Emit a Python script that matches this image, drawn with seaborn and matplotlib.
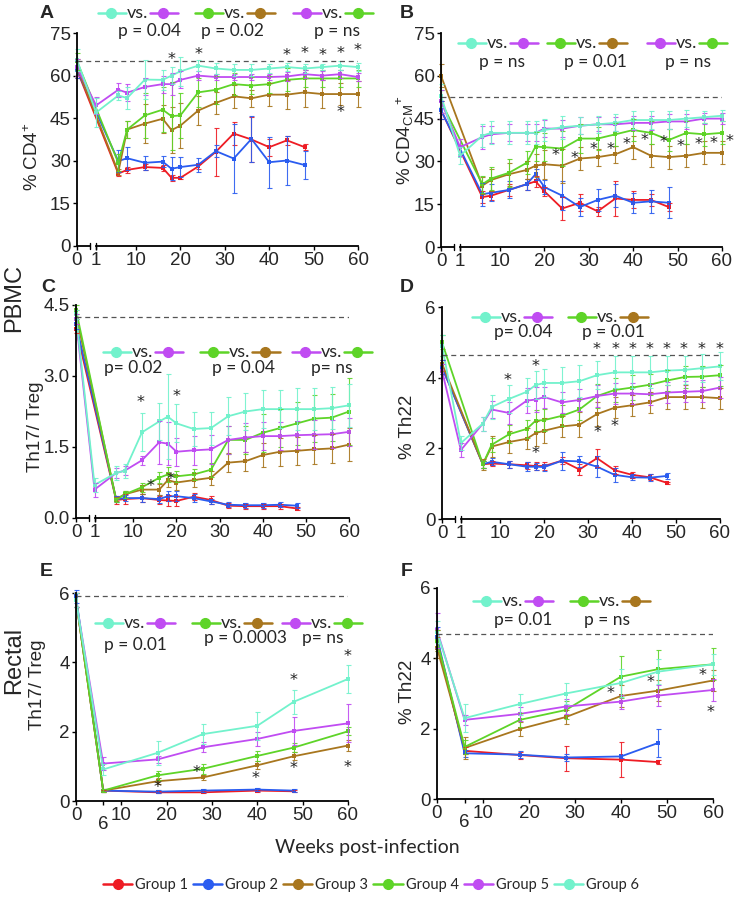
import numpy as np
import pandas as pd
import matplotlib
matplotlib.use("Agg")
import matplotlib.pyplot as plt
import seaborn as sns
from matplotlib.lines import Line2D
from matplotlib import font_manager as fm

# ---------------- data ----------------
GROUPS = ["Group 1", "Group 2", "Group 3", "Group 4", "Group 5", "Group 6"]
COLORS = ["#ee1c24", "#2a5cf0", "#a8761e", "#5ed428", "#c04cf2", "#72f2cc"]

wk_56 = [0, 1, 6, 8, 12, 16, 18, 20, 24, 28, 32, 36, 40, 44, 48, 52, 56, 60]
wk_34 = [0, 6, 8, 12, 16, 18, 20, 24, 28, 32, 36, 40, 44, 48, 52, 56, 60]
wk_12 = [0, 6, 8, 12, 16, 18, 20, 24, 28, 32, 36, 40, 44, 48]
wk_r = [0, 6, 18, 28, 40, 48, 60]
wk_r12 = [0, 6, 18, 28, 40, 48]

# Panel A  (% CD4+)
A_g1 = [62, 25.5, 26.8, 27.8, 27.5, 24, 24, 28, 33.2, 39.6, 37.5, 34.8, 37.2, 34.8]
A_g1_err = [3, 1, 1, 1, 1, 1, 0.5, 1, 8.5, 4, 8, 3, 1.5, 1]
A_g2 = [62, 29.9, 30.9, 29.3, 29.7, 27.2, 27.8, 28.6, 33.4, 30.8, 37.7, 29.5, 30.1, 28.5]
A_g2_err = [3, 4, 4, 2.5, 2, 4, 3.5, 2.5, 2, 12, 8, 9, 8.5, 5]
A_g3 = [63, 26, 41, 43.1, 44.8, 40.8, 42.4, 47.7, 50.4, 52.7, 52, 53.3, 53.3, 54.1, 53.5, 53.5, 53.5]
A_g3_err = [3, 1, 3, 7, 5, 8, 8, 5, 4, 4, 3, 4, 5, 5, 5, 4, 4.5]
A_g4 = [65, 29.3, 41, 46, 48, 45.7, 46, 54.1, 55, 57, 56.5, 57, 58.5, 59, 59, 59, 59]
A_g4_err = [3, 3, 3, 8, 8, 12, 8, 5, 5, 4, 3, 3, 4, 3, 3, 3, 3]
A_g5 = [63, 49.5, 55, 54, 56, 57, 57, 58.5, 60, 59.5, 59.5, 59.5, 59.5, 59.7, 60.5, 60, 60.5, 59.5]
A_g5_err = [3, 3, 2.5, 3, 3, 3, 4, 3, 1.5, 1, 1, 1, 1, 1.5, 1.5, 1.5, 1.5, 1.5]
A_g6 = [65.5, 47, 53, 52.1, 58.6, 58.5, 60, 61.5, 63.5, 62.5, 62, 62, 62.5, 63, 62.5, 63, 63.5, 63]
A_g6_err = [4, 5, 1.5, 4, 7, 3.5, 3, 5, 2, 2, 2, 2, 1.5, 1.5, 1.5, 1, 1.5, 1.5]
A_base = 65
A_star_x = [18, 24, 44, 48, 52, 56, 60, 56]
A_star_y = [65.5, 67.4, 67, 67.7, 67, 67.7, 68.9, 46.9]

# Panel B  (% CD4 CM+)
B_g1 = [48, 17.5, 18, 20, 22, 23, 19.5, 13.5, 15.5, 12.5, 17, 16.5, 16.5, 14]
B_g1_err = [3, 2, 1.5, 2, 2, 2, 1.5, 4, 3, 1.5, 6, 3, 2, 1.5]
B_g2 = [48, 18.5, 19, 20, 22, 25.5, 21, 18, 14, 16.5, 18, 15.5, 16, 15.5]
B_g2_err = [3, 4, 3, 3, 2, 2, 2.5, 5, 3, 4, 4, 3.5, 4, 5.5]
B_g3 = [60, 21.5, 23.5, 25.5, 27, 28.5, 29, 28.5, 31, 31.5, 32.5, 35, 32, 31.5, 32, 33, 33]
B_g3_err = [4, 3, 4, 4, 3, 4, 5, 6, 4, 3, 3, 4, 4, 4, 4, 4, 4]
B_g4 = [51, 22, 24, 26, 29.5, 35.2, 35, 34.5, 38, 38, 39.5, 41, 40, 37.5, 40, 39.5, 40]
B_g4_err = [4, 3, 4, 5, 4, 5, 5, 6, 5, 4, 4, 4, 4, 4, 4, 4, 4]
B_g5 = [51, 35, 38.5, 39.5, 40, 40, 40, 41.5, 41.5, 42.5, 43, 43, 43.5, 43.5, 44, 44, 45, 45]
B_g5_err = [4, 3, 4, 3, 3, 3, 3, 3, 3, 3, 2.5, 2.5, 2.5, 2.5, 2.5, 2.5, 2, 2]
B_g6 = [53, 32, 39, 40, 40, 40, 40, 41, 42, 42.5, 43, 43.5, 44.5, 44.5, 44.5, 45, 45.5, 46]
B_g6_err = [4, 3, 4, 4, 4, 4, 4, 4, 4, 3, 3, 3, 3, 3, 3, 3, 2, 2]
B_base = 52.5
B_star_x = [22.6, 26.8, 31, 34.8, 38.6, 42.5, 46.8, 50.6, 54.6, 58.2, 61.8]
B_star_y = [32.2, 31, 34, 34.3, 36, 37.3, 36.6, 35.2, 35.8, 36.1, 36.9]

# Panel C  (PBMC Th17/Treg)
C_g1 = [4.0, 0.38, 0.4, 0.42, 0.38, 0.37, 0.36, 0.45, 0.38, 0.26, 0.25, 0.25, 0.25, 0.2]
C_g1_err = [0.1, 0.08, 0.1, 0.08, 0.08, 0.12, 0.1, 0.08, 0.08, 0.05, 0.05, 0.05, 0.05, 0.04]
C_g2 = [4.1, 0.4, 0.42, 0.42, 0.4, 0.46, 0.46, 0.42, 0.35, 0.28, 0.27, 0.27, 0.28, 0.26]
C_g2_err = [0.1, 0.06, 0.06, 0.08, 0.08, 0.1, 0.1, 0.08, 0.06, 0.05, 0.05, 0.05, 0.05, 0.05]
C_g3 = [4.3, 0.4, 0.5, 0.6, 0.6, 0.8, 0.75, 0.8, 0.85, 1.17, 1.2, 1.33, 1.4, 1.42, 1.45, 1.47, 1.55]
C_g3_err = [0.1, 0.05, 0.08, 0.1, 0.12, 0.15, 0.15, 0.15, 0.15, 0.2, 0.2, 0.25, 0.3, 0.3, 0.3, 0.3, 0.35]
C_g4 = [4.4, 0.38, 0.5, 0.65, 0.85, 0.92, 0.88, 0.92, 1.02, 1.65, 1.65, 1.8, 1.9, 2.0, 2.1, 2.12, 2.25]
C_g4_err = [0.1, 0.05, 0.08, 0.1, 0.12, 0.15, 0.12, 0.12, 0.15, 0.3, 0.3, 0.4, 0.4, 0.45, 0.5, 0.5, 0.7]
C_g5 = [4.2, 0.6, 0.95, 1.0, 1.22, 1.6, 1.57, 1.4, 1.43, 1.45, 1.65, 1.7, 1.73, 1.73, 1.75, 1.76, 1.77, 1.82]
C_g5_err = [0.1, 0.15, 0.1, 0.1, 0.1, 0.45, 0.45, 0.3, 0.3, 0.3, 0.3, 0.3, 0.3, 0.3, 0.3, 0.3, 0.3, 0.3]
C_g6 = [4.3, 0.7, 0.95, 1.0, 1.81, 2.04, 2.14, 2.0, 1.88, 1.9, 2.15, 2.25, 2.3, 2.3, 2.3, 2.3, 2.32, 2.38]
C_g6_err = [0.1, 0.15, 0.15, 0.15, 0.4, 0.4, 0.9, 0.4, 0.35, 0.35, 0.4, 0.4, 0.4, 0.4, 0.45, 0.45, 0.45, 0.45]
C_base = 4.25
C_star_x = [11.6, 19.9, 14.0, 18.5]
C_star_y = [2.43, 2.57, 0.67, 0.81]

# Panel D  (PBMC % Th22)
D_g1 = [4.3, 1.55, 1.57, 1.55, 1.52, 1.5, 1.5, 1.65, 1.4, 1.72, 1.38, 1.25, 1.18, 1.02]
D_g1_err = [0.2, 0.1, 0.08, 0.1, 0.1, 0.1, 0.1, 0.1, 0.15, 0.25, 0.12, 0.08, 0.08, 0.03]
D_g2 = [4.3, 1.55, 1.62, 1.55, 1.48, 1.48, 1.47, 1.65, 1.63, 1.48, 1.25, 1.18, 1.17, 1.22]
D_g2_err = [0.2, 0.1, 0.1, 0.1, 0.12, 0.1, 0.1, 0.25, 0.15, 0.3, 0.2, 0.08, 0.1, 0.08]
D_g3 = [4.4, 1.55, 2.05, 2.18, 2.27, 2.43, 2.5, 2.62, 2.67, 2.97, 3.15, 3.22, 3.3, 3.45, 3.45, 3.45, 3.42]
D_g3_err = [0.2, 0.15, 0.3, 0.3, 0.3, 0.35, 0.35, 0.3, 0.35, 0.35, 0.3, 0.3, 0.3, 0.35, 0.35, 0.3, 0.3]
D_g4 = [5.0, 1.55, 2.1, 2.4, 2.55, 2.78, 2.8, 2.92, 3.1, 3.48, 3.65, 3.72, 3.8, 3.92, 4.02, 4.03, 4.07]
D_g4_err = [0.2, 0.1, 0.2, 0.25, 0.25, 0.3, 0.3, 0.3, 0.3, 0.35, 0.35, 0.35, 0.3, 0.3, 0.3, 0.3, 0.3]
D_g5 = [4.2, 1.95, 2.7, 3.1, 3.0, 3.35, 3.38, 3.45, 3.3, 3.37, 3.48, 3.55, 3.55, 3.53, 3.58, 3.6, 3.62, 3.72]
D_g5_err = [0.2, 0.2, 0.2, 0.25, 0.3, 0.35, 0.35, 0.3, 0.3, 0.3, 0.3, 0.3, 0.3, 0.3, 0.3, 0.3, 0.3, 0.3]
D_g6 = [4.9, 2.15, 2.7, 3.17, 3.4, 3.6, 3.79, 3.85, 3.85, 3.9, 4.07, 4.15, 4.15, 4.15, 4.2, 4.22, 4.27, 4.32]
D_g6_err = [0.3, 0.2, 0.2, 0.35, 0.4, 0.4, 0.4, 0.4, 0.45, 0.45, 0.4, 0.45, 0.45, 0.45, 0.4, 0.4, 0.4, 0.4]
D_base = 4.65
D_star_x = [31.9, 36.1, 40, 43.9, 47.9, 51.8, 55.8, 59.8, 11.7, 18, 32, 36, 18]
D_star_y = [4.8, 4.8, 4.8, 4.8, 4.8, 4.8, 4.8, 4.8, 3.93, 4.33, 2.44, 2.63, 1.86]

# Panel E  (Rectal Th17/Treg)
E_g1 = [5.8, 0.3, 0.25, 0.25, 0.3, 0.28]
E_g1_err = [0.2, 0.03, 0.03, 0.03, 0.03, 0.03]
E_g2 = [5.9, 0.3, 0.27, 0.3, 0.33, 0.3]
E_g2_err = [0.2, 0.05, 0.04, 0.04, 0.04, 0.04]
E_g3 = [5.8, 0.3, 0.57, 0.68, 1.03, 1.29, 1.6]
E_g3_err = [0.2, 0.05, 0.08, 0.08, 0.12, 0.12, 0.15]
E_g4 = [5.8, 0.3, 0.74, 0.93, 1.3, 1.54, 2.01]
E_g4_err = [0.2, 0.05, 0.12, 0.15, 0.15, 0.12, 0.12]
E_g5 = [5.8, 1.08, 1.2, 1.55, 1.79, 2.02, 2.24]
E_g5_err = [0.2, 0.2, 0.1, 0.15, 0.2, 0.4, 0.55]
E_g6 = [5.8, 0.91, 1.39, 1.93, 2.17, 2.86, 3.52]
E_g6_err = [0.2, 0.15, 0.35, 0.3, 0.4, 0.35, 0.4]
E_base = 5.9
E_star_x = [59.8, 48, 48, 59.8, 39.7, 26.6, 18]
E_star_y = [4.18, 3.47, 0.93, 0.96, 0.65, 0.81, 0.4]

# Panel F  (Rectal % Th22)
F_g1 = [4.5, 1.37, 1.25, 1.16, 1.12, 1.05]
F_g1_err = [0.3, 0.1, 0.1, 0.35, 0.5, 0.05]
F_g2 = [4.6, 1.3, 1.26, 1.18, 1.21, 1.59]
F_g2_err = [0.3, 0.1, 0.1, 0.1, 0.05, 0.4]
F_g3 = [4.3, 1.45, 1.99, 2.33, 2.93, 3.08, 3.37]
F_g3_err = [0.3, 0.3, 0.2, 0.2, 0.3, 0.3, 0.3]
F_g4 = [4.5, 1.48, 2.25, 2.53, 3.48, 3.69, 3.83]
F_g4_err = [0.3, 0.2, 0.2, 0.25, 0.6, 0.55, 0.45]
F_g5 = [4.8, 2.25, 2.42, 2.63, 2.77, 2.94, 3.1]
F_g5_err = [0.5, 0.15, 0.2, 0.2, 0.2, 0.3, 0.3]
F_g6 = [4.75, 2.3, 2.7, 3.0, 3.3, 3.62, 3.83]
F_g6_err = [0.3, 0.4, 0.3, 0.3, 0.4, 0.35, 0.3]
F_base = 4.68
F_star_x = [37.8, 46.4, 57.8, 59.4]
F_star_y = [3.0, 3.3, 3.5, 2.47]

# ---------------- style ----------------
sns.set_theme(style="ticks")
names = {f.name for f in fm.fontManager.ttflist}
TICKFONT = "Liberation Sans"
for cand in ["Liberation Sans Narrow", "DejaVu Sans Condensed", "Liberation Sans"]:
    if cand in names:
        TICKFONT = cand
        break
plt.rcParams["font.family"] = ["Lato", "DejaVu Sans"]
plt.rcParams["mathtext.fontset"] = "custom"
plt.rcParams["mathtext.rm"] = "Liberation Sans"
plt.rcParams["mathtext.it"] = "Liberation Sans"
plt.rcParams["axes.linewidth"] = 1.3

W, H = 734, 899
fig = plt.figure(figsize=(W / 100, H / 100), dpi=100)


def fx(px):
    return px / W


def fy(py):
    return 1 - py / H


def add_axes(x0, x1, ytop, ybot):
    return fig.add_axes([fx(x0), fy(ybot), (x1 - x0) / W, (ybot - ytop) / H])


BREAK0 = -3.3


def draw_panel(ax, weeks, vals, errs, broken, ylim, yticks, yticklabels, base,
               sx, sy):
    rows = []
    for g, wk, v, e in zip(GROUPS, weeks, vals, errs):
        for w_, v_, e_ in zip(wk, v, e):
            xpos = BREAK0 if (broken and w_ == 0) else w_
            rows.append((g, w_, xpos, v_, e_))
    df = pd.DataFrame(rows, columns=["group", "week", "x", "val", "err"])
    pal = dict(zip(GROUPS, COLORS))
    sns.lineplot(data=df, x="x", y="val", hue="group", hue_order=GROUPS,
                 palette=pal, marker="s", markersize=3.2, markeredgewidth=0,
                 linewidth=1.3, estimator=None, errorbar=None, legend=False,
                 ax=ax, clip_on=False)
    for g in GROUPS:
        d = df[df.group == g]
        ax.errorbar(d.x, d.val, yerr=d.err, fmt="none", ecolor=pal[g],
                    elinewidth=0.8, capsize=1.8, capthick=0.8, clip_on=False,
                    alpha=0.9)
    xstart = BREAK0 if broken else 0
    ax.hlines(base, xstart, 60, colors="#555555", linestyles=(0, (4, 3)),
              linewidth=0.9)
    for x_, y_ in zip(sx, sy):
        ax.text(x_, y_, "*", ha="center", va="center", fontsize=11.5,
                color="#222222", family="DejaVu Sans")
    ax.set_ylim(*ylim)
    ax.set_yticks(yticks)
    ax.set_yticklabels(yticklabels)
    ax.set_xlabel("")
    ax.set_ylabel("")
    sns.despine(ax=ax)
    ax.spines["left"].set_color("black")
    ax.spines["bottom"].set_color("black")
    ax.tick_params(axis="both", length=3, width=1, color="black", pad=1.5,
                   labelsize=13.5)
    for lab in ax.get_xticklabels() + ax.get_yticklabels():
        lab.set_family(TICKFONT)
    if broken:
        ax.set_xlim(BREAK0, 60)
        ax.set_xticks([BREAK0, 1, 10, 20, 30, 40, 50, 60])
        ax.set_xticklabels(["0", "1", "10", "20", "30", "40", "50", "60"],
                           family=TICKFONT)
        ax.spines["bottom"].set_bounds(1, 60)
        tr = ax.get_xaxis_transform()
        ax.plot([BREAK0, -0.3], [0, 0], color="black", lw=1.3,
                transform=tr, clip_on=False)
        ax.plot([-0.3, -0.3], [-0.012, 0.012], color="black", lw=1,
                transform=tr, clip_on=False)
        ax.plot([1, 1], [-0.012, 0.012], color="black", lw=1,
                transform=tr, clip_on=False)
    else:
        ax.set_xlim(0, 60)
        ax.set_xticks([0, 6, 10, 20, 30, 40, 50, 60])
        ax.set_xticklabels(["0", "6", "10", "20", "30", "40", "50", "60"],
                           family=TICKFONT)
        ax.xaxis.get_major_ticks()[1].set_pad(8)
    ax.patch.set_alpha(0)


def pair(x_left, y, c1, c2, ptxt, px, py):
    for xs, c in [(x_left, c1), (x_left + 52, c2)]:
        fig.add_artist(Line2D([fx(xs), fx(xs + 28)], [fy(y), fy(y)],
                              color=c, lw=1.8))
        fig.add_artist(Line2D([fx(xs + 13)], [fy(y)], marker="o", ms=7,
                              color=c, mec=c))
    fig.text(fx(x_left + 29), fy(y), "vs.", ha="left", va="center",
             fontsize=13)
    fig.text(fx(px), fy(py), ptxt, ha="center", va="center", fontsize=12.5)


C1, C2, C3, C4, C5, C6 = COLORS

# ---------------- panels ----------------
axA = add_axes(77, 358, 33, 246)
draw_panel(axA, [wk_12, wk_12, wk_34, wk_34, wk_56, wk_56],
           [A_g1, A_g2, A_g3, A_g4, A_g5, A_g6],
           [A_g1_err, A_g2_err, A_g3_err, A_g4_err, A_g5_err, A_g6_err],
           True, (0, 75), [0, 15, 30, 45, 60, 75],
           ["0", "15", "30", "45", "60", "75"], A_base, A_star_x, A_star_y)

axB = add_axes(441, 722, 33, 247)
draw_panel(axB, [wk_12, wk_12, wk_34, wk_34, wk_56, wk_56],
           [B_g1, B_g2, B_g3, B_g4, B_g5, B_g6],
           [B_g1_err, B_g2_err, B_g3_err, B_g4_err, B_g5_err, B_g6_err],
           True, (0, 75), [0, 15, 30, 45, 60, 75],
           ["0", "15", "30", "45", "60", "75"], B_base, B_star_x, B_star_y)

axC = add_axes(76, 349, 305, 518)
draw_panel(axC, [wk_12, wk_12, wk_34, wk_34, wk_56, wk_56],
           [C_g1, C_g2, C_g3, C_g4, C_g5, C_g6],
           [C_g1_err, C_g2_err, C_g3_err, C_g4_err, C_g5_err, C_g6_err],
           True, (0, 4.5), [0, 1.5, 3.0, 4.5],
           ["0.0", "1.5", "3.0", "4.5"], C_base, C_star_x, C_star_y)

axD = add_axes(442, 720, 307, 519)
draw_panel(axD, [wk_12, wk_12, wk_34, wk_34, wk_56, wk_56],
           [D_g1, D_g2, D_g3, D_g4, D_g5, D_g6],
           [D_g1_err, D_g2_err, D_g3_err, D_g4_err, D_g5_err, D_g6_err],
           True, (0, 6), [0, 2, 4, 6], ["0", "2", "4", "6"],
           D_base, D_star_x, D_star_y)

axE = add_axes(76, 348, 593, 801)
draw_panel(axE, [wk_r12, wk_r12, wk_r, wk_r, wk_r, wk_r],
           [E_g1, E_g2, E_g3, E_g4, E_g5, E_g6],
           [E_g1_err, E_g2_err, E_g3_err, E_g4_err, E_g5_err, E_g6_err],
           False, (0, 6), [0, 2, 4, 6], ["0", "2", "4", "6"],
           E_base, E_star_x, E_star_y)

axF = add_axes(437, 713, 588, 799)
draw_panel(axF, [wk_r12, wk_r12, wk_r, wk_r, wk_r, wk_r],
           [F_g1, F_g2, F_g3, F_g4, F_g5, F_g6],
           [F_g1_err, F_g2_err, F_g3_err, F_g4_err, F_g5_err, F_g6_err],
           False, (0, 6), [0, 2, 4, 6], ["0", "2", "4", "6"],
           F_base, F_star_x, F_star_y)

# ---------------- comparison keys ----------------
pair(98, 13, C6, C5, "p = 0.04", 150, 31)
pair(195, 13, C4, C3, "p = 0.02", 232, 31)
pair(293, 13, C5, C4, "p = ns", 337, 31)

pair(458, 43, C6, C5, "p = ns", 502, 62)
pair(547, 43, C4, C3, "p = 0.01", 595, 62)
pair(647, 43, C5, C4, "p = ns", 688, 62)

pair(103, 352, C6, C5, "p= 0.02", 133, 368)
pair(200, 352, C4, C3, "p = 0.04", 243, 368)
pair(292, 352, C5, C4, "p= ns", 332, 368)

pair(472, 317, C6, C5, "p= 0.04", 523, 332)
pair(568, 317, C4, C3, "p = 0.01", 613, 332)

pair(95, 623, C6, C5, "p = 0.01", 135, 645)
pair(192, 623, C4, C3, "p = 0.0003", 245, 638)
pair(282, 623, C5, C4, "p= ns", 323, 638)

pair(473, 601, C6, C5, "p= 0.01", 523, 620)
pair(570, 601, C4, C3, "p = ns", 607, 620)

# ---------------- labels ----------------
LAB = "Liberation Sans"
fig.text(fx(33), fy(157), "% CD4$^{+}$", rotation=90, ha="center",
         va="center", fontsize=13.5, family=LAB)
fig.text(fx(405), fy(140), "% CD4$_{\\mathregular{CM}}$$^{+}$", rotation=90,
         ha="center", va="center", fontsize=13.5, family=LAB)
fig.text(fx(35), fy(427), "Th17/ Treg", rotation=90, ha="center",
         va="center", fontsize=13.5, family=LAB)
fig.text(fx(407), fy(427), "% Th22", rotation=90, ha="center",
         va="center", fontsize=13.5, family=LAB)
fig.text(fx(37), fy(685), "Th17/ Treg", rotation=90, ha="center",
         va="center", fontsize=13.5, family=LAB)
fig.text(fx(407), fy(692), "% Th22", rotation=90, ha="center",
         va="center", fontsize=13.5, family=LAB)
fig.text(fx(14), fy(298), "PBMC", rotation=90, ha="center", va="center",
         fontsize=17, family=LAB)
fig.text(fx(14), fy(660), "Rectal", rotation=90, ha="center", va="center",
         fontsize=17, family=LAB)

for letter, (lx, ly) in {"A": (47, 13), "B": (407, 13), "C": (48, 288),
                         "D": (407, 288), "E": (46, 572),
                         "F": (407, 572)}.items():
    fig.text(fx(lx), fy(ly), letter, ha="center", va="center",
             fontsize=14, fontweight="bold", family=LAB)

fig.text(fx(367), fy(848), "Weeks post-infection", ha="center", va="center",
         fontsize=14)

handles = [Line2D([0], [0], color=c, lw=1.8, marker="o", ms=7, mec=c)
           for c in COLORS]
fig.legend(handles, GROUPS, loc="center", bbox_to_anchor=(fx(371), fy(885)),
           ncol=6, frameon=False, fontsize=10.5, handlelength=2.0,
           handletextpad=0.2, columnspacing=0.35, borderaxespad=0)

fig.savefig("out.png", dpi=100)
